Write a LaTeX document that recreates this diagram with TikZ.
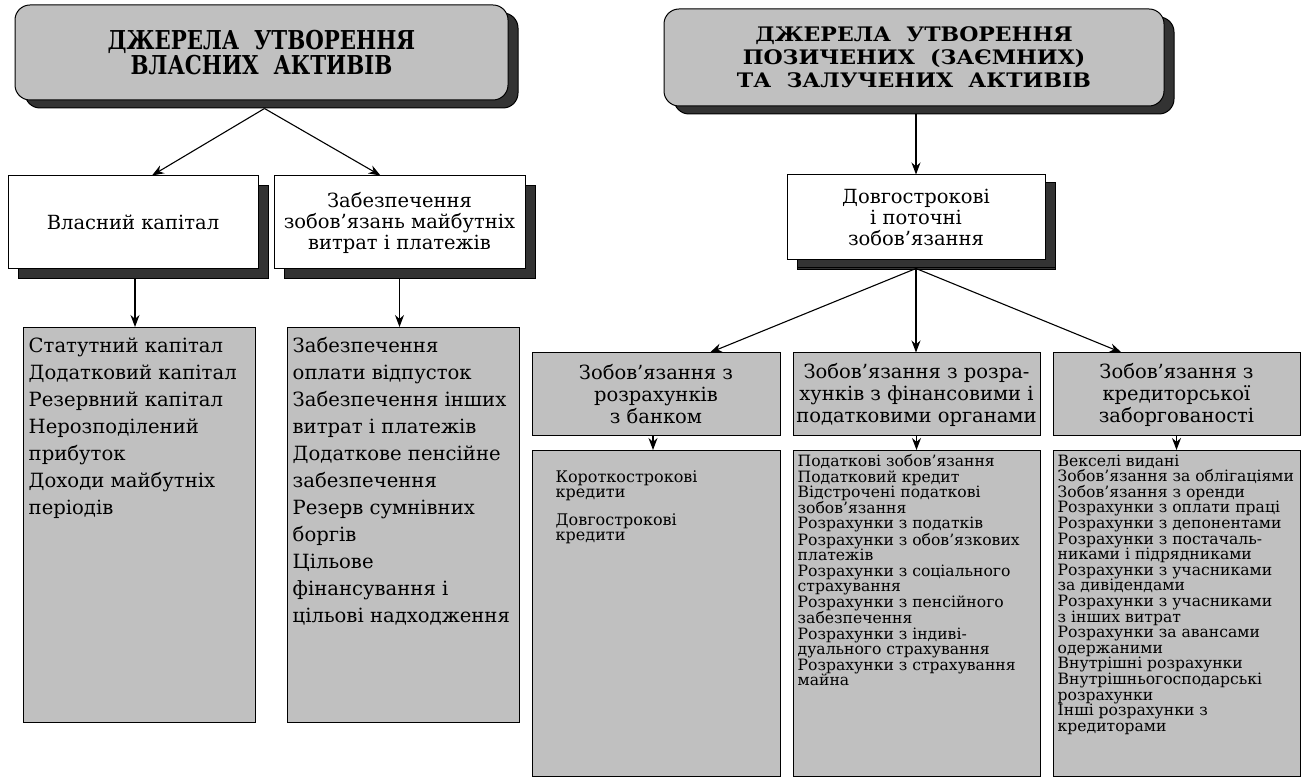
\documentclass[tikz,border=0pt]{standalone}
\usepackage{fontspec}
\setmainfont{DejaVu Serif}
\newfontfamily\headnarrow[FakeStretch=0.82]{DejaVu Serif}
\newfontfamily\headwide[FakeStretch=1.1]{DejaVu Serif}
\usetikzlibrary{arrows.meta,shadows}
\definecolor{boxgray}{HTML}{C0C0C0}
\definecolor{shadowgray}{HTML}{333333}

\tikzset{
  headbox/.style={draw, line width=1pt, fill=boxgray, rounded corners=15pt, align=center,
    drop shadow={shadow xshift=10pt, shadow yshift=-8pt, fill=shadowgray, draw=black, opacity=1}},
  whitebox/.style={draw, line width=1pt, fill=white, align=center, font=\fontsize{19.5}{21}\selectfont,
    drop shadow={shadow xshift=10pt, shadow yshift=-10pt, fill=shadowgray, draw=black, opacity=1}},
  graybox/.style={draw, line width=1pt, fill=boxgray, align=center, minimum width=247pt,
    minimum height=83pt, font=\fontsize{19.5}{22}\selectfont},
  listbox/.style={draw, line width=1.4pt, fill=boxgray, anchor=north west, inner xsep=5pt, inner ysep=4pt},
  link/.style={->, line width=1.1pt}
}

\begin{document}
\begin{tikzpicture}[x=1pt, y=-1pt, >={Stealth[length=12pt,width=9pt]}]
    \useasboundingbox (0,0) rectangle (1302,783);

    % Own sources — left header
    \node[headbox, minimum width=493pt, minimum height=95pt,
        font=\headnarrow\bfseries\fontsize{26}{23}\selectfont] (ownsrc) at (261.5,52.5)
        {ДЖЕРЕЛА~~УТВОРЕННЯ\\ВЛАСНИХ~~АКТИВІВ};

    % Borrowed sources — right header
    \node[headbox, minimum width=500pt, minimum height=97pt,
        font=\headwide\bfseries\fontsize{20}{23}\selectfont] (borrowsrc) at (914,57.5)
        {ДЖЕРЕЛА~~УТВОРЕННЯ\\ПОЗИЧЕНИХ~~(ЗАЄМНИХ)\\ТА~~ЗАЛУЧЕНИХ~~АКТИВІВ};

    % Second row
    \node[whitebox, minimum width=250pt, minimum height=93pt] (equity) at (133,222.5) {Власний капітал};
    \node[whitebox, minimum width=251pt, minimum height=93pt] (provisions) at (399.5,222.5)
        {Забезпечення\\зобов’язань майбутніх\\витрат і платежів};
    \node[whitebox, minimum width=258pt, minimum height=85pt,
        drop shadow={shadow xshift=10pt, shadow yshift=-8pt, fill=shadowgray, draw=black, opacity=1}]
        (liabilities) at (916,217.5) {Довгострокові\\і поточні\\зобов’язання};

    % Liability groups
    \node[graybox, minimum width=248pt] (bankdebt) at (656,394.5) {Зобов’язання з\\розрахунків\\з банком};
    \node[graybox] (taxdebt) at (916.5,394.5) {Зобов’язання з розра-\\хунків з фінансовими і\\податковими органами};
    \node[graybox] (creditdebt) at (1176.5,394.5) {Зобов’язання з\\кредиторської\\заборгованості};

    % Item lists
    \node[listbox, inner ysep=10pt] (equitylist) at (23,327) {\parbox[t][375pt][t]{222pt}{\fontsize{19.6}{27}\selectfont
        Статутний капітал\\Додатковий капітал\\Резервний капітал\\Нерозподілений\\прибуток\\
        Доходи майбутніх\\періодів}};
    \node[listbox, inner ysep=10pt] (provlist) at (287,327) {\parbox[t][375pt][t]{222pt}{\fontsize{19.6}{27}\selectfont
        Забезпечення\\оплати відпусток\\Забезпечення інших\\витрат і платежів\\Додаткове пенсійне\\
        забезпечення\\Резерв сумнівних\\боргів\\Цільове\\фінансування і\\цільові надходження}};
    \node[listbox, inner xsep=23pt, inner ysep=20pt] (banklist) at (532,450)
        {\parbox[t][286pt][t]{202pt}{\fontsize{16}{15}\selectfont
        Короткострокові\\кредити\\[12pt]Довгострокові\\кредити}};
    \node[listbox, inner xsep=4pt] (taxlist) at (793,450) {\parbox[t][318pt][t]{239pt}{\fontsize{15.6}{15.5}\selectfont
        Податкові зобов’язання\\Податковий кредит\\Відстрочені податкові\\зобов’язання\\
        Розрахунки з податків\\Розрахунки з обов’язкових\\платежів\\Розрахунки з соціального\\
        страхування\\Розрахунки з пенсійного\\забезпечення\\Розрахунки з індиві-\\
        дуального страхування\\Розрахунки з страхування\\майна}};
    \node[listbox, inner xsep=4pt] (creditlist) at (1053,450) {\parbox[t][318pt][t]{239pt}{\fontsize{15.6}{15.6}\selectfont
        Векселі видані\\Зобов’язання за облігаціями\\Зобов’язання з оренди\\Розрахунки з оплати праці\\
        Розрахунки з депонентами\\Розрахунки з постачаль-\\никами і підрядниками\\
        Розрахунки з учасниками\\за дивідендами\\Розрахунки з учасниками\\з інших витрат\\
        Розрахунки за авансами\\одержаними\\Внутрішні розрахунки\\Внутрішньогосподарські\\
        розрахунки\\Інші розрахунки з\\кредиторами}};

    % Arrows — left side
    \coordinate (ownfoot) at ([xshift=3pt, yshift=-8pt]ownsrc.south);
    \draw[link] (ownfoot) -- ([xshift=19pt]equity.north);
    \draw[link] (ownfoot) -- ([xshift=-19pt]provisions.north);
    \draw[link] ([xshift=2pt, yshift=-10pt]equity.south) -- ([xshift=2pt]equity.south |- equitylist.north);
    \draw[link] ([yshift=-10pt]provisions.south) -- (provisions.south |- provlist.north);

    % Arrows — right side
    \draw[link] ([xshift=2pt, yshift=-8pt]borrowsrc.south) -- (liabilities.north);
    \coordinate (liabfoot) at ([yshift=-8pt]liabilities.south);
    \draw[link] (liabfoot) -- ([xshift=54pt]bankdebt.north);
    \draw[link] (liabfoot) -- (liabfoot |- taxdebt.north);
    \draw[link] (liabfoot) -- ([xshift=-55pt]creditdebt.north);
    \draw[link] ([xshift=-3pt]bankdebt.south) -- ([xshift=-3pt]bankdebt.south |- banklist.north);
    \draw[link] (taxdebt.south) -- (taxdebt.south |- taxlist.north);
    \draw[link] (creditdebt.south) -- (creditdebt.south |- creditlist.north);
\end{tikzpicture}
\end{document}
